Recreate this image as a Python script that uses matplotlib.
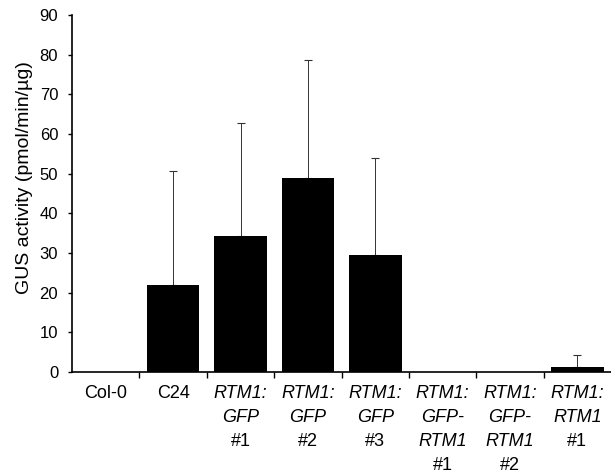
import matplotlib.pyplot as plt
import matplotlib.transforms as mtransforms

plt.rcParams['font.family'] = ['Liberation Sans', 'DejaVu Sans']

# each label is a list of (text, italic) lines
labels = [
    [("Col-0", False)],
    [("C24", False)],
    [("RTM1:", True), ("GFP", True), ("#1", False)],
    [("RTM1:", True), ("GFP", True), ("#2", False)],
    [("RTM1:", True), ("GFP", True), ("#3", False)],
    [("RTM1:", True), ("GFP-", True), ("RTM1", True), ("#1", False)],
    [("RTM1:", True), ("GFP-", True), ("RTM1", True), ("#2", False)],
    [("RTM1:", True), ("RTM1", True), ("#1", False)],
]
values = [0, 22, 34.3, 49, 29.5, 0, 0, 1.3]
errors = [0, 28.7, 28.5, 29.7, 24.5, 0, 0, 3.0]
yticks = [0, 10, 20, 30, 40, 50, 60, 70, 80, 90]

fig = plt.figure(figsize=(6.11, 4.73), dpi=100)
ax = fig.add_axes([0.118, 0.2135, 0.882, 0.7545])

x = list(range(len(values)))
ax.bar(x, values, width=0.78, color='black', zorder=2)
err_x = [i for i in x if errors[i] > 0]
ax.errorbar(err_x, [values[i] for i in err_x],
            yerr=[[0] * len(err_x), [errors[i] for i in err_x]],
            fmt='none', ecolor='#333333', elinewidth=0.7, capsize=2.8, capthick=0.8, zorder=1)

ax.set_xlim(-0.5, len(values) - 0.5)
ax.set_ylim(0, 90)
ax.set_yticks(yticks)
ax.tick_params(axis='y', labelsize=12, direction='out', length=3, width=1, pad=7)
ax.set_ylabel("GUS activity (pmol/min/µg)", fontsize=14)
ax.yaxis.set_label_coords(-0.072, 0.546)

# ticks at the category boundaries, labels drawn as text
ax.set_xticks([i + 0.5 for i in x[:-1]])
ax.set_xticklabels([])
ax.tick_params(axis='x', direction='out', length=4, width=1)

for side in ['top', 'right']:
    ax.spines[side].set_visible(False)
ax.spines['left'].set_linewidth(1.2)
ax.spines['bottom'].set_linewidth(1.2)

trans = ax.get_xaxis_transform()
for i, lines in enumerate(labels):
    for k, (txt, ital) in enumerate(lines):
        off = mtransforms.offset_copy(trans, fig=fig, x=0, y=-(26 + 24 * k) * 0.72, units='points')
        ax.text(i, 0, txt, transform=off, ha='center', va='baseline', fontsize=13,
                style='italic' if ital else 'normal')

fig.savefig('out.png', dpi=100)
